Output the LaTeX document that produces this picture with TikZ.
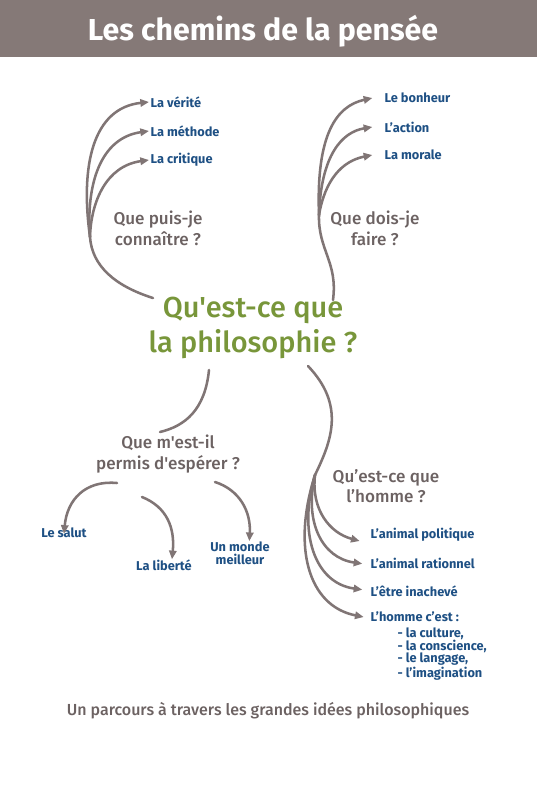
\documentclass[tikz,border=0pt]{standalone}
\usepackage{fontspec}
\newfontfamily\ff{Fira Sans}
\newfontfamily\ffm{Fira Sans Medium}
\usetikzlibrary{arrows.meta}
\definecolor{bar}{RGB}{133,121,119}
\definecolor{lin}{RGB}{128,117,117}
\definecolor{qgrey}{RGB}{108,98,98}
\definecolor{blu}{RGB}{30,80,132}
\definecolor{grn}{RGB}{120,150,58}
\tikzset{
  conn/.style={draw=lin, line width=1.9pt, line cap=round},
  arr/.style={conn, -{Triangle[length=6.5pt,width=5.5pt]}},
  qlab/.style={text=qgrey, font=\ffm\fontsize{12.8}{15.5}\selectfont, align=center, inner sep=1pt},
  blab/.style={text=blu, font=\ff\bfseries\fontsize{9.6}{10}\selectfont, anchor=west, inner sep=1pt},
  titlelab/.style={text=white, font=\ff\bfseries\fontsize{22.7}{26}\selectfont, inner sep=0pt},
  mainlab/.style={text=grn, font=\ffm\fontsize{21.7}{26.3}\selectfont, align=center, inner sep=1pt},
  footlab/.style={text=qgrey, font=\ffm\fontsize{12}{14}\selectfont, inner sep=0pt}
}
\begin{document}
\begin{tikzpicture}[x=0.75pt,y=-0.75pt]
\useasboundingbox (0,0) rectangle (537,789);
\fill[white] (0,0) rectangle (537,789);
\fill[bar] (0,0) rectangle (537,57);
\node[titlelab] (title) at (263,31) {Les chemins de la pensée};

\node[mainlab] (main) at (253,328) {Qu'est-ce que\\la philosophie ?};

% top left
\node[qlab] (puis) at (158,228) {Que puis-je\\connaître ?};
\node[blab] (verite) at (149,102) {La vérité};
\node[blab] (methode) at (149,131) {La méthode};
\node[blab] (critique) at (149,160) {La critique};
\coordinate (tl) at (153,298);
\coordinate (tlj) at (90,237);
\draw[conn] (tl) .. controls (115,286) and (92,266) .. (tlj);
\draw[arr] (tlj) .. controls (80,165) and (93,108) .. (verite.west);
\draw[arr] (tlj) .. controls (86,185) and (100,138) .. (methode.west);
\draw[arr] (tlj) .. controls (91,202) and (106,166) .. (critique.west);

% top right
\node[qlab] (dois) at (375,228) {Que dois-je\\faire ?};
\node[blab] (bonheur) at (383,98) {Le bonheur};
\node[blab] (action) at (383,127) {L’action};
\node[blab] (morale) at (383,155) {La morale};
\coordinate (tr) at (333,300);
\coordinate (trj) at (319,215);
\draw[conn] (tr) .. controls (338,262) and (318,250) .. (trj);
\draw[arr] (trj) .. controls (316,135) and (336,106) .. ([xshift=-8pt]bonheur.west);
\draw[arr] (trj) .. controls (321,155) and (342,132) .. ([xshift=-8pt]action.west);
\draw[arr] (trj) .. controls (325,180) and (342,161) .. ([xshift=-8pt]morale.west);

% bottom left
\node[qlab] (esperer) at (168,454) {Que m'est-il\\permis d'espérer ?};
\node[blab, anchor=center] (salut) at (64,533) {Le salut};
\node[blab, anchor=center] (liberte) at (164,565) {La liberté};
\node[blab, anchor=center, align=center] (monde) at (240,553) {Un monde\\meilleur};
\coordinate (bl) at (209,370);
\coordinate (blend) at (160,432);
\draw[conn] (bl) .. controls (205,410) and (185,426) .. (blend);
\coordinate (s1) at (117,483);
\coordinate (s2) at (142,497);
\coordinate (s3) at (215,482);
\draw[arr] (s1) .. controls (85,480) and (67,500) .. ([yshift=-5.5pt]salut.north);
\draw[arr] (s2) .. controls (167,507) and (175,528) .. ([yshift=-1pt,xshift=6pt]liberte.north);
\draw[arr] (s3) .. controls (240,490) and (251,512) .. ([yshift=-1pt,xshift=7pt]monde.north);

% bottom right
\node[qlab] (homme) at (386,486) {Qu’est-ce que\\ l’homme ?};
\node[blab] (politique) at (369,535) {L’animal politique};
\node[blab] (rationnel) at (369,563) {L’animal rationnel};
\node[blab] (inacheve) at (369,591) {L’être inachevé};
\node[blab] (hommeest) at (369,617) {L’homme c’est :};
\node[blab, align=left, anchor=north west, font=\ff\bfseries\fontsize{9.6}{9.6}\selectfont] (liste) at (396,626) {- la culture,\\- la conscience,\\- le langage,\\- l’imagination};
\coordinate (br) at (308,366);
\coordinate (brj) at (315,475);
\draw[conn] (br) .. controls (345,405) and (332,440) .. (brj);
\draw[arr] (brj) .. controls (311,510) and (330,533) .. ([yshift=-4.5pt,xshift=-7pt]politique.west);
\draw[arr] (brj) .. controls (304,522) and (322,558) .. ([yshift=-0.5pt,xshift=-5pt]rationnel.west);
\draw[arr] (brj) .. controls (298,532) and (314,583) .. ([yshift=1pt,xshift=-5pt]inacheve.west);
\draw[arr] (brj) .. controls (292,547) and (308,606) .. ([xshift=-4pt]hommeest.west);

\node[footlab] (foot) at (268,711) {Un parcours à travers les grandes idées philosophiques};
\end{tikzpicture}
\end{document}
